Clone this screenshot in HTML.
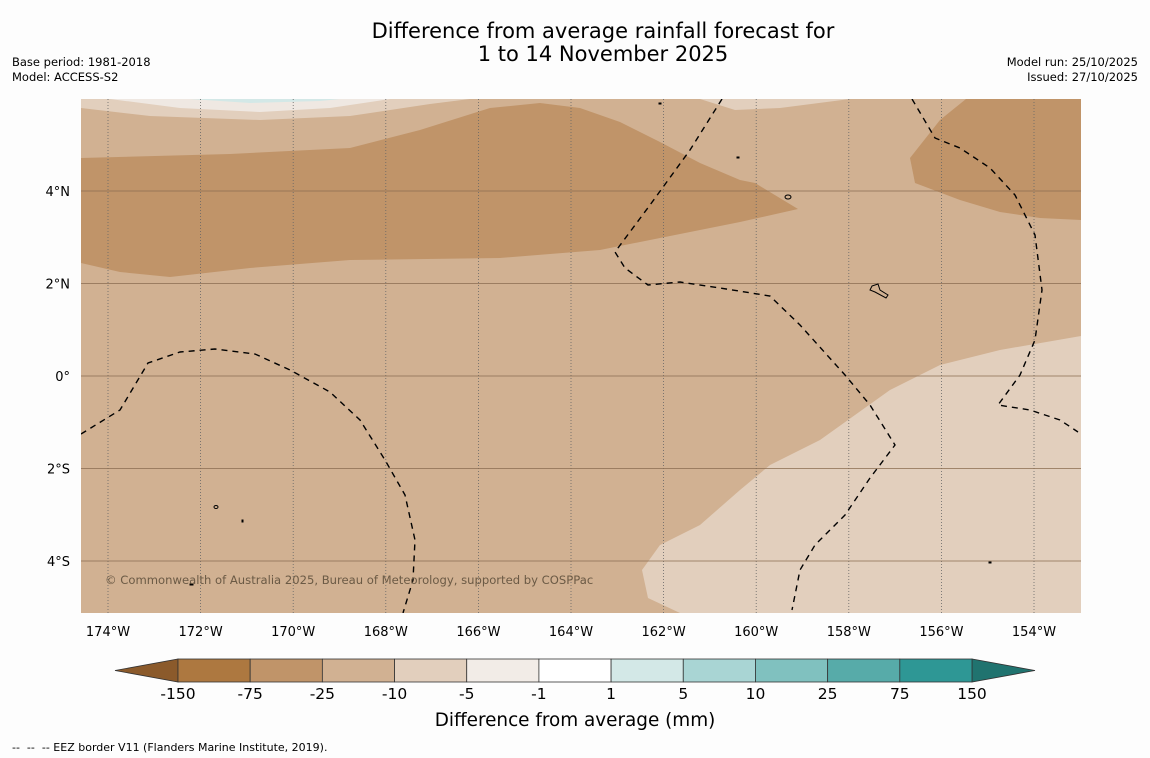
<!DOCTYPE html>
<html><head><meta charset="utf-8"><style>
html,body{margin:0;padding:0;background:#fff;width:1150px;height:758px;overflow:hidden;font-family:"Liberation Sans","DejaVu Sans",sans-serif}
</style></head><body>
<svg id="svg" width="1150" height="758" xmlns="http://www.w3.org/2000/svg" font-family="DejaVu Sans, Liberation Sans, sans-serif">
<rect width="1150" height="758" fill="#fdfdfd"/>
<text x="603" y="38" font-size="21" text-anchor="middle">Difference from average rainfall forecast for</text>
<text x="603" y="61" font-size="21" text-anchor="middle">1 to 14 November 2025</text>
<text x="12" y="66" font-size="11.5">Base period: 1981-2018</text>
<text x="12" y="81" font-size="11.5">Model: ACCESS-S2</text>
<text x="1138" y="66" font-size="11.5" text-anchor="end">Model run: 25/10/2025</text>
<text x="1138" y="81" font-size="11.5" text-anchor="end">Issued: 27/10/2025</text>
<defs><clipPath id="mc"><rect x="81" y="99" width="1000" height="514"/></clipPath></defs>
<g clip-path="url(#mc)">
<rect x="81" y="99" width="1000" height="514" fill="#d1b192"/>
<path d="M81,99 L81,108 L150,116 L260,120 L350,116 L430,104 L470,99 Z" fill="#e2cfbd"/>
<path d="M110,99 L180,108 L260,112 L330,108 L390,99 Z" fill="#efe8e2"/>
<path d="M190,99 L250,103 L320,101 L340,99 Z" fill="#d3e8e7"/>
<path d="M700,99 L735,110 L780,108 L850,99 Z" fill="#e2cfbd"/>
<path d="M81,158 L230,154 L350,148 L420,130 L490,108 L540,103 L580,108 L620,122 L660,142 L700,163 L740,180 L755,183 L798,209 L740,222 L660,238 L600,250 L500,258 L350,260 L250,268 L170,277 L120,272 L81,263 Z" fill="#c09469"/>
<path d="M966,99 L940,120 L910,158 L915,183 L960,200 L1000,212 L1040,218 L1081,220 L1081,99 Z" fill="#c09469"/>
<path d="M1081,336 L1000,350 L940,365 L890,390 L820,440 L770,465 L740,490 L700,525 L660,545 L642,570 L648,598 L680,613 L1081,613 Z" fill="#e2cfbd"/>
<g id="grid"></g>
<g fill="none" stroke="#000" stroke-width="1.4" stroke-dasharray="6,5">
<path d="M81,434 L120,410 L148,363 L180,352 L215,349 L255,354 L290,370 L330,392 L360,420 L385,460 L405,495 L415,540 L413,580 L403,613"/>
<path d="M722,99 L690,150 L650,205 L615,252 L625,268 L648,285 L680,282 L720,288 L770,296 L800,325 L845,375 L870,405 L895,445 L870,478 L845,515 L815,545 L800,570 L792,610"/>
<path d="M912,99 L935,138 L960,148 L990,168 L1015,195 L1035,235 L1042,290 L1035,340 L1020,375 L998,405 L1030,410 L1060,420 L1078,432"/>
</g>
<g fill="none" stroke="#000" stroke-width="1">
<ellipse cx="788" cy="197" rx="3" ry="2"/><path d="M872,286 L878,284 L880,290 L888,295 L886,298 L875,292 L870,290 Z"/>
<ellipse cx="216" cy="507" rx="2" ry="1.5"/><rect x="659" y="103" width="2" height="1"/><rect x="737" y="157" width="2" height="1"/>
<rect x="242" y="520" width="1" height="2"/><rect x="190" y="584" width="3" height="1"/><rect x="989" y="562" width="2" height="1"/>
</g>
<text x="105" y="584" font-size="11.6" fill="#6b5a45">© Commonwealth of Australia 2025, Bureau of Meteorology, supported by COSPPac</text>
</g>
<g id="axes"></g>
<g id="cbar"></g>
<text x="575" y="726" font-size="18.4" text-anchor="middle">Difference from average (mm)</text>
<text x="12" y="751" font-size="11" xml:space="preserve" style="white-space:pre">--  --  -- EEZ border V11 (Flanders Marine Institute, 2019).</text>
</svg>
<script>
const lonTicks=[-174,-172,-170,-168,-166,-164,-162,-160,-158,-156,-154];
const latTicks=[4,2,0,-2,-4];
const latLabels=["4°N","2°N","0°","2°S","4°S"];
const cbarLevels=["-150","-75","-25","-10","-5","-1","1","5","10","25","75","150"];
const cbarColors=["#ad7840","#c09469","#d1b192","#e2cfbd","#f2ece7","#ffffff","#d3e8e7","#a9d5d4","#80c1bf","#57aba9","#2e9795"];
const NS="http://www.w3.org/2000/svg";
function xLon(l){return 108+(l+174)*46.3;}
function yLat(l){return 376-l*46.25;}
function mk(t,a,p){const e=document.createElementNS(NS,t);for(const k in a)e.setAttribute(k,a[k]);p.appendChild(e);return e;}
const grid=document.getElementById('grid'),axes=document.getElementById('axes'),cb=document.getElementById('cbar');
lonTicks.forEach(l=>{const x=xLon(l);
 const g=mk('line',{x1:x,x2:x,y1:99,y2:613,stroke:'#666',"stroke-width":0.8,"stroke-dasharray":"1,2"},grid);
 
 
 const t=mk('text',{x:x,y:636,"font-size":13,"text-anchor":"middle"},axes);t.textContent=Math.abs(l)+"°W";
 
 });
latTicks.forEach((l,i)=>{const y=yLat(l);
 const g=mk('line',{x1:81,x2:1081,y1:y,y2:y,stroke:'#8a6d50',"stroke-width":0.8},grid);
 
 
 const t=mk('text',{x:70,y:y+5,"font-size":13,"text-anchor":"end"},axes);t.textContent=latLabels[i];
 
 });
const x0=178,x1=972,w=(x1-x0)/cbarColors.length,y0=659,h=23;
const lt=mk('polygon',{points:`115,${y0+h/2} ${x0},${y0} ${x0},${y0+h}`,fill:'#8b5a2b',stroke:'#333',"stroke-width":0.8},cb);


const rt=mk('polygon',{points:`1035,${y0+h/2} ${x1},${y0} ${x1},${y0+h}`,fill:'#20736f',stroke:'#333',"stroke-width":0.8},cb);


cbarColors.forEach((c,i)=>{const r=mk('rect',{x:x0+i*w,y:y0,width:w,height:h,fill:c,stroke:'#333',"stroke-width":0.8},cb);
 
 });
cbarLevels.forEach((s,i)=>{const t=mk('text',{x:x0+i*w,y:699,"font-size":15.5,"text-anchor":"middle"},cb);t.textContent=s;
 
 });
</script>
</body></html>
